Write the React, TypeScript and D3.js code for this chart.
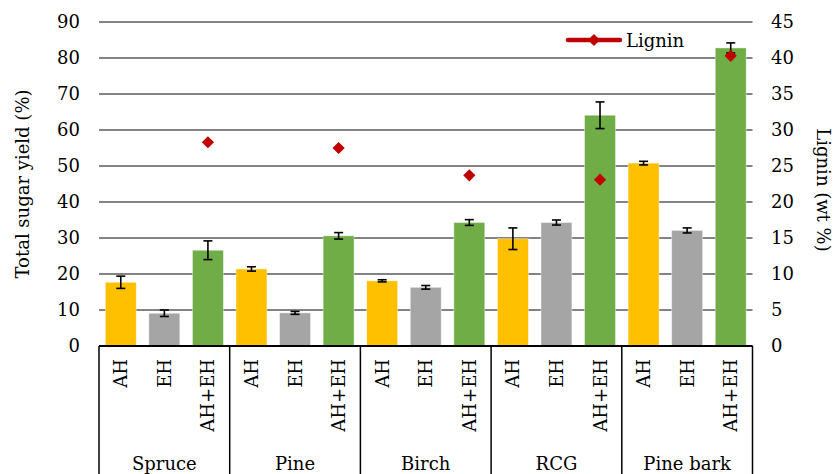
import React from "react";
import * as d3 from "d3";

const groups = ["Spruce", "Pine", "Birch", "RCG", "Pine bark"];
const treatments = ["AH", "EH", "AH+EH"];
const sugarAH = [17.7, 21.4, 18.1, 29.8, 50.8];
const errAH = [1.7, 0.6, 0.3, 3.0, 0.5];
const sugarEH = [9.1, 9.2, 16.3, 34.3, 32.1];
const errEH = [0.9, 0.4, 0.5, 0.7, 0.7];
const sugarAHEH = [26.6, 30.6, 34.3, 64.1, 82.8];
const errAHEH = [2.6, 0.9, 0.8, 3.7, 1.4];
const lignin = [28.3, 27.5, 23.7, 23.1, 40.3];
const leftTicks = [0, 10, 20, 30, 40, 50, 60, 70, 80, 90];
const rightTicks = [0, 5, 10, 15, 20, 25, 30, 35, 40, 45];
const colors = ["#FFC000", "#A5A5A5", "#70AD47"];

const FONT = "'DejaVu Serif', serif";

export default function App() {
  const W = 835, H = 474;
  const x0 = 99, x1 = 752.5, yTop = 22, yBot = 346;
  const y = d3.scaleLinear().domain([0, 90]).range([yBot, yTop]);
  const yR = d3.scaleLinear().domain([0, 45]).range([yBot, yTop]);
  const keys: string[] = [];
  groups.forEach((g, gi) => treatments.forEach((t, ti) => keys.push(gi + "-" + ti)));
  const x = d3.scaleBand<string>().domain(keys).range([x0, x1]).paddingInner(0.29).paddingOuter(0.145);
  const step = x.step();
  const series = [sugarAH, sugarEH, sugarAHEH];
  const errs = [errAH, errEH, errAHEH];

  const bars: any[] = [];
  groups.forEach((g, gi) => {
    treatments.forEach((t, ti) => {
      bars.push({ key: gi + "-" + ti, gi, ti, v: series[ti][gi], e: errs[ti][gi] });
    });
  });

  const diamond = d3.symbol().type(d3.symbolDiamond2).size(95)();

  return (
    <svg width={W} height={H} style={{ position: "absolute", left: 0, top: 0, background: "#fff" }} fontFamily={FONT}>
      {leftTicks.map((t) => (
        <line key={"g" + t} x1={x0} x2={x1} y1={y(t)} y2={y(t)} stroke="#5a5a5a" strokeWidth={1.5} />
      ))}
      {bars.map((b) => (
        <rect key={"b" + b.key} x={x(b.key)} width={x.bandwidth()} y={y(b.v)} height={yBot - y(b.v)} fill={colors[b.ti]} stroke="#ffffff" strokeOpacity={0.5} strokeWidth={0.8} />
      ))}
      {bars.map((b) => {
        const cx = (x(b.key) as number) + x.bandwidth() / 2;
        return (
          <g key={"e" + b.key} stroke="#000" strokeWidth={1.6}>
            <line x1={cx} x2={cx} y1={y(b.v + b.e)} y2={y(b.v - b.e)} />
            <line x1={cx - 4.5} x2={cx + 4.5} y1={y(b.v + b.e)} y2={y(b.v + b.e)} />
            <line x1={cx - 4.5} x2={cx + 4.5} y1={y(b.v - b.e)} y2={y(b.v - b.e)} />
          </g>
        );
      })}
      {lignin.map((l, gi) => {
        const k = gi + "-2";
        const cx = (x(k) as number) + x.bandwidth() / 2;
        return <path key={"l" + gi} d={diamond as string} transform={`translate(${cx},${yR(l)})`} fill="#C00000" />;
      })}
      <line x1={x0} x2={x1} y1={yBot} y2={yBot} stroke="#000" strokeWidth={1.8} />
      {groups.map((g, gi) => (
        <line key={"v" + gi} x1={x0 + gi * 3 * step} x2={x0 + gi * 3 * step} y1={yBot} y2={H} stroke="#000" strokeWidth={1.5} />
      ))}
      <line x1={x1} x2={x1} y1={yBot} y2={H} stroke="#000" strokeWidth={1.5} />
      {bars.map((b) => {
        const cx = (x(b.key) as number) + x.bandwidth() / 2;
        return (
          <text key={"s" + b.key} transform={`translate(${cx + 6.5},359) rotate(-90)`} textAnchor="end" fontSize={18} fill="#000">
            {treatments[b.ti]}
          </text>
        );
      })}
      {groups.map((g, gi) => (
        <text key={"gl" + gi} x={x0 + (gi + 0.5) * 3 * step} y={470} textAnchor="middle" fontSize={18} fill="#000">
          {g}
        </text>
      ))}
      {leftTicks.map((t) => (
        <text key={"lt" + t} x={80} y={y(t) + 6} textAnchor="end" fontSize={18} fill="#000">
          {t}
        </text>
      ))}
      {rightTicks.map((t) => (
        <text key={"rt" + t} x={771} y={yR(t) + 6} textAnchor="start" fontSize={18} fill="#000">
          {t}
        </text>
      ))}
      <text transform={`translate(29,${(yTop + yBot) / 2}) rotate(-90)`} textAnchor="middle" fontSize={18} fill="#000">
        Total sugar yield (%)
      </text>
      <text transform={`translate(817,${(yTop + yBot) / 2 + 6}) rotate(90)`} textAnchor="middle" fontSize={18} fill="#000">
        Lignin (wt %)
      </text>
      <line x1={568} x2={620} y1={40} y2={40} stroke="#C00000" strokeWidth={4.5} strokeLinecap="round" />
      <path d={diamond as string} transform="translate(594,40)" fill="#C00000" />
      <text x={626} y={47} fontSize={18} fill="#000">Lignin</text>
    </svg>
  );
}
